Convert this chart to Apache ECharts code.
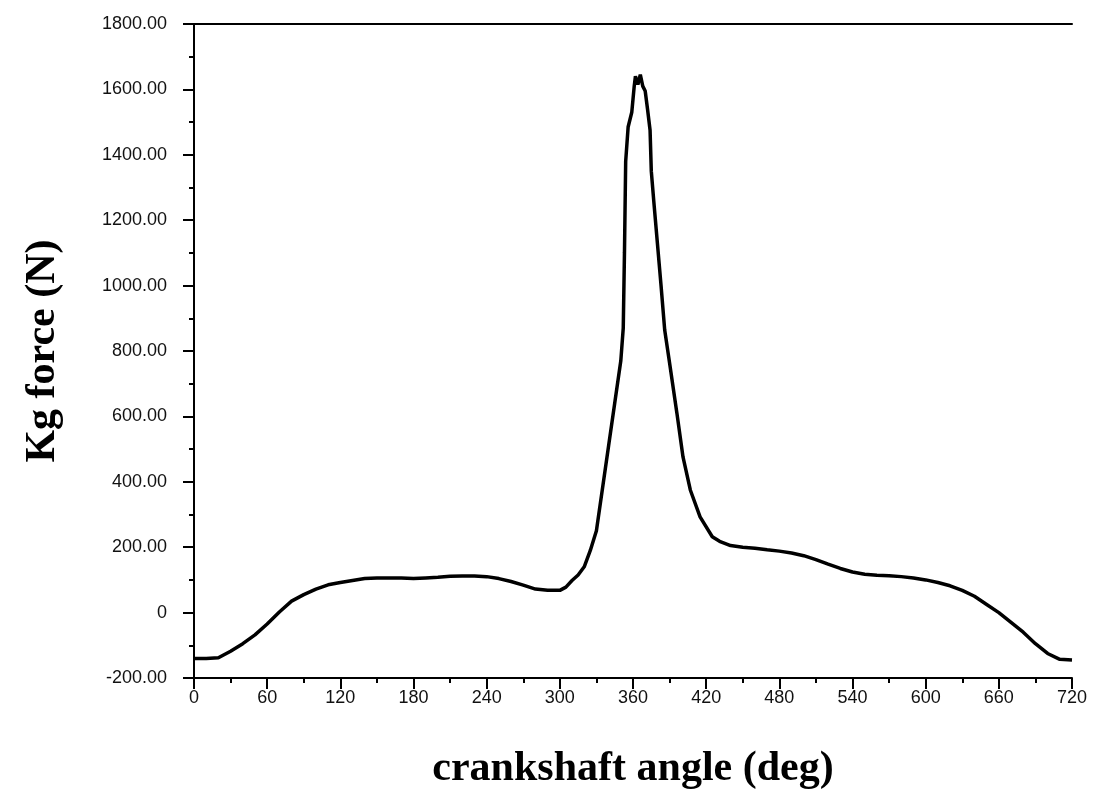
<!DOCTYPE html>
<html>
<head>
<meta charset="utf-8">
<script src="https://cdn.jsdelivr.net/npm/echarts@6/dist/echarts.min.js"></script>
<style>
  html, body { margin: 0; padding: 0; background: #fff; }
  #chart { width: 1095px; height: 804px; }
</style>
</head>
<body>
<div id="chart"></div>
<script>
// crank angle (deg) and Kg force (N)
const angles = [0, 10, 20, 30, 40, 50, 60, 70, 80, 90, 100, 110, 120, 130, 140, 150, 160, 170, 180, 190,
  200, 210, 220, 230, 240, 250, 260, 270, 280, 290, 300, 305, 310, 315, 320, 325, 330, 335, 340, 345,
  350, 352, 353, 354, 356, 359, 361, 362, 364, 366, 368, 370, 372, 374, 375, 377, 380, 383, 386, 390,
  396, 401, 407, 415, 425, 431, 440, 450, 460, 470, 480, 490, 500, 510, 520, 530, 540, 550, 560, 570,
  580, 590, 600, 610, 620, 630, 640, 650, 660, 670, 680, 690, 700, 710, 720];
const force = [-140, -140, -138, -118, -95, -68, -35, 2, 35, 55, 72, 85, 92, 98, 104, 106, 106, 106, 104, 106,
  108, 111, 112, 112, 110, 104, 95, 84, 72, 68, 68, 78, 98, 115, 140, 190, 250, 380, 510, 640,
  770, 870, 1100, 1380, 1485, 1530, 1610, 1640, 1615, 1645, 1610, 1595, 1537, 1475, 1350, 1260, 1130, 1000, 864, 763,
  610, 476, 375, 293, 232, 218, 205, 200, 197, 192, 188, 182, 174, 162, 148, 135, 124, 117, 114, 113,
  110, 106, 100, 92, 82, 68, 50, 25, 0, -30, -60, -95, -125, -143, -145];

const xTicks = [0, 60, 120, 180, 240, 300, 360, 420, 480, 540, 600, 660, 720];
const yTicks = [-200, 0, 200, 400, 600, 800, 1000, 1200, 1400, 1600, 1800];

const points = angles.map((a, i) => [a, force[i]]);

const chart = echarts.init(document.getElementById('chart'));
const axisLine = { onZero: false, lineStyle: { color: '#000', width: 2 } };
const labelFont = { color: '#111', fontFamily: 'Liberation Sans', fontSize: 18 };

chart.setOption({
  backgroundColor: '#fff',
  animation: false,
  grid: { left: 194, right: 23, top: 24, bottom: 126 },
  xAxis: [{
    type: 'value',
    min: xTicks[0],
    max: xTicks[xTicks.length - 1],
    interval: 60,
    name: 'crankshaft angle (deg)',
    nameLocation: 'middle',
    nameGap: 70,
    nameTextStyle: { fontFamily: 'Liberation Serif', fontWeight: 'bold', fontSize: 42, color: '#000' },
    axisLine: axisLine,
    axisTick: { length: 11, lineStyle: { color: '#000', width: 2 } },
    minorTick: { show: true, splitNumber: 2, length: 5, lineStyle: { color: '#000', width: 2 } },
    axisLabel: Object.assign({ margin: 11 }, labelFont),
    splitLine: { show: false }
  }, {
    type: 'value',
    position: 'top',
    min: xTicks[0],
    max: xTicks[xTicks.length - 1],
    axisLine: axisLine,
    axisTick: { show: false },
    axisLabel: { show: false },
    splitLine: { show: false }
  }],
  yAxis: {
    type: 'value',
    min: yTicks[0],
    max: yTicks[yTicks.length - 1],
    interval: 200,
    name: 'Kg force (N)',
    nameLocation: 'middle',
    nameGap: 130,
    nameTextStyle: { fontFamily: 'Liberation Serif', fontWeight: 'bold', fontSize: 42, color: '#000' },
    axisLine: axisLine,
    axisTick: { length: 11, lineStyle: { color: '#000', width: 2 } },
    minorTick: { show: true, splitNumber: 2, length: 5, lineStyle: { color: '#000', width: 2 } },
    axisLabel: Object.assign({
      margin: 27,
      formatter: v => v === 0 ? '0' : v.toFixed(2)
    }, labelFont),
    splitLine: { show: false }
  },
  series: [{
    type: 'line',
    data: points,
    showSymbol: false,
    lineStyle: { color: '#000', width: 3.5 }
  }]
});
</script>
</body>
</html>
